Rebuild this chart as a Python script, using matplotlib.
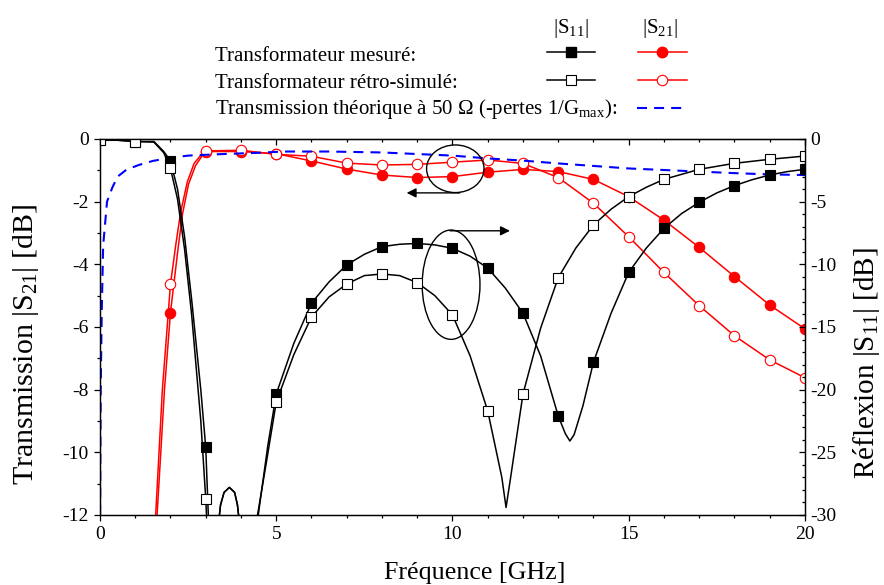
import numpy as np
import matplotlib
matplotlib.use('Agg')
import matplotlib.pyplot as plt
from matplotlib.patches import Ellipse
from matplotlib.ticker import MultipleLocator

plt.rcParams['font.family'] = ['Liberation Serif', 'DejaVu Serif']
plt.rcParams['mathtext.fontset'] = 'custom'
plt.rcParams['mathtext.rm'] = 'Liberation Serif'
plt.rcParams['mathtext.it'] = 'Liberation Serif:italic'
plt.rcParams['axes.unicode_minus'] = False

nan = np.nan

# markers, one per GHz
f_mk = np.arange(0, 21)
s11_mes_mk = [-0.1, -0.2, -1.76, -24.6, nan, -20.35, -13.1, -10.05, -8.59, -8.33, -8.72,
              -10.3, -13.9, -22.1, -17.8, -10.64, -7.13, -5.05, -3.72, -2.87, -2.42]
s11_sim_mk = [-0.1, -0.2, -2.34, -28.7, nan, -21.0, -14.2, -11.57, -10.77, -11.46, -14.04,
              -21.7, -20.35, -11.07, -6.86, -4.6, -3.22, -2.42, -1.94, -1.62, -1.36]
s21_mes_mk = [nan, nan, -5.54, -0.40, -0.40, -0.47, -0.70, -0.96, -1.15, -1.23, -1.20,
              -1.06, -0.97, -1.04, -1.29, -1.84, -2.59, -3.46, -4.39, -5.30, -6.06]
s21_sim_mk = [nan, nan, -4.63, -0.38, -0.36, -0.49, -0.55, -0.77, -0.83, -0.81, -0.74,
              -0.67, -0.78, -1.23, -2.05, -3.12, -4.26, -5.32, -6.28, -7.05, -7.62]

# traced curves
f_s11_mes = [0, 0.5, 1, 1.53, 1.81, 2, 2.2, 2.4, 2.6, 2.86, 3, 3.08,
             3.35, 3.42, 3.52, 3.67, 3.82, 3.9, 3.97, 4.4, 4.49, 4.76, 5,
             5.5, 6, 6.5, 7, 7.5, 8, 8.5, 9, 9.5, 10, 10.5, 11, 11.5, 12, 12.5,
             13, 13.2, 13.33, 13.45, 13.7, 14, 14.5, 15, 15.5, 16, 16.5, 17, 17.5,
             18, 18.5, 19, 19.5, 20]
s11_mes = [-0.1, -0.1, -0.2, -0.2, -1.0, -1.76, -4.0, -7.8, -12.8, -20.0, -24.6, -30.5,
           -31, -29.2, -28.2, -27.8, -28.2, -29.2, -31, -35, -30.0, -24.5, -20.35,
           -16.3, -13.1, -11.4, -10.05, -9.2, -8.59, -8.4, -8.33, -8.45, -8.72, -9.35, -10.3, -11.9, -13.9, -17.3,
           -22.1, -23.5, -24.1, -23.6, -21.3, -17.8, -13.9, -10.64, -8.7, -7.13, -5.95, -5.05, -4.3,
           -3.72, -3.25, -2.87, -2.6, -2.42]

f_s11_sim = [0, 0.5, 1, 1.53, 1.81, 2, 2.2, 2.4, 2.6, 2.86, 3, 3.03,
             3.35, 3.42, 3.52, 3.67, 3.82, 3.9, 3.97, 4.4, 4.47, 4.75, 5,
             5.5, 6, 6.5, 7, 7.5, 8, 8.5, 9, 9.5, 10, 10.5, 11, 11.4, 11.52, 11.65, 12, 12.5,
             13, 13.5, 14, 14.5, 15, 15.5, 16, 17, 18, 19, 20]
s11_sim = [-0.1, -0.1, -0.2, -0.25, -1.1, -2.34, -4.8, -8.8, -14.0, -22.5, -28.7, -30.5,
           -31, -29.2, -28.2, -27.8, -28.2, -29.2, -31, -35, -30.0, -25.3, -21.0,
           -17.2, -14.2, -12.6, -11.57, -10.9, -10.77, -10.9, -11.46, -12.5, -14.04, -17.3, -21.7, -27.0, -29.4, -27.0, -20.35, -15.1,
           -11.07, -8.7, -6.86, -5.6, -4.6, -3.85, -3.22, -2.42, -1.94, -1.62, -1.36]

f_s21_mes = [1.55, 1.62, 1.83, 2, 2.21, 2.34, 2.51, 2.71, 2.89, 3, 4, 5, 6, 7, 8, 9, 10,
             11, 12, 13, 14, 15, 16, 17, 18, 19, 20]
s21_mes = [-13.5, -12.0, -8.0, -5.54, -3.54, -2.4, -1.45, -0.85, -0.55, -0.40, -0.40, -0.47, -0.70, -0.96,
           -1.15, -1.23, -1.20, -1.06, -0.97, -1.04, -1.29, -1.84, -2.59, -3.46, -4.39, -5.30, -6.06]

f_s21_sim = [1.5, 1.58, 1.77, 2, 2.15, 2.29, 2.48, 2.67, 2.86, 3, 4, 5, 6, 7, 8, 9, 10,
             11, 12, 13, 14, 15, 16, 17, 18, 19, 20]
s21_sim = [-13.5, -12.0, -8.0, -4.63, -3.38, -2.32, -1.36, -0.78, -0.52, -0.38, -0.36, -0.49, -0.55, -0.77,
           -0.83, -0.81, -0.74, -0.67, -0.78, -1.23, -2.05, -3.12, -4.26, -5.32, -6.28, -7.05, -7.62]

f_theo = [0.003, 0.02, 0.05, 0.09, 0.2, 0.35, 0.5, 0.75, 1.1, 1.5, 1.9, 2.5, 3.5, 4.5, 5.2, 6.5,
          8, 9, 10, 11, 12, 13, 14, 15, 16, 17, 18, 19, 20]
s21_theo = [-12, -8, -5.5, -3.4, -2.0, -1.55, -1.2, -0.98, -0.83, -0.7, -0.62, -0.53, -0.48, -0.44, -0.40, -0.40,
            -0.43, -0.48, -0.53, -0.62, -0.69, -0.78, -0.86, -0.94, -0.99, -1.04, -1.09, -1.13, -1.15]

red = '#ff0000'
blue = '#0000ff'
lw = 1.1

fig = plt.figure(figsize=(8.84, 5.85), dpi=100)
ax = fig.add_axes([0.1131, 0.1197, 0.7975, 0.6427])
ax2 = ax.twinx()

# S21 on the left axis
ax.plot(f_s21_mes, s21_mes, color=red, lw=lw)
ax.plot(f_s21_sim, s21_sim, color=red, lw=lw)
ax.plot(f_mk, s21_mes_mk, 'o', color=red, ms=7.5, mec=red, mew=0.8)
ax.plot(f_mk, s21_sim_mk, 'o', color=red, ms=7.5, mfc='white', mec=red, mew=0.8)
ax.plot(f_theo, s21_theo, color=blue, lw=1.5, ls=(0, (4.8, 3.4)))

# S11 on the right axis
ax2.plot(f_s11_mes, s11_mes, color='k', lw=lw)
ax2.plot(f_s11_sim, s11_sim, color='k', lw=lw)
ax2.plot(f_mk, s11_mes_mk, 's', color='k', ms=6.5, mew=0.8)
ax2.plot(f_mk, s11_sim_mk, 's', color='k', ms=6.5, mfc='white', mec='k', mew=0.8)

ax.set_xlim(0, 20)
ax.set_ylim(-12, 0)
ax2.set_ylim(-30, 0)

ax.xaxis.set_major_locator(MultipleLocator(5))
ax.xaxis.set_minor_locator(MultipleLocator(1))
ax.yaxis.set_major_locator(MultipleLocator(2))
ax.yaxis.set_minor_locator(MultipleLocator(1))
ax2.yaxis.set_major_locator(MultipleLocator(5))
ax2.yaxis.set_minor_locator(MultipleLocator(1))

ax.tick_params(which='both', direction='out', labelsize=14, width=0.9)
ax.tick_params(which='major', length=4.5)
ax.tick_params(which='minor', length=2.5)
ax2.tick_params(which='both', direction='in', labelsize=14, width=0.9)
ax2.tick_params(which='major', length=4.5)
ax2.tick_params(which='minor', length=2.5)

top = ax.secondary_xaxis('top')
top.xaxis.set_major_locator(MultipleLocator(5))
top.xaxis.set_minor_locator(MultipleLocator(1))
top.tick_params(which='both', direction='in', labeltop=False, width=0.9)
top.tick_params(which='major', length=4.5)
top.tick_params(which='minor', length=2.5)

for a in (ax, ax2):
    for sp in a.spines.values():
        sp.set_linewidth(0.9)

# axis titles placed in pixel positions
W, H = 884, 585
fig.text(475 / W, 1 - 573 / H, 'Fréquence [GHz]', fontsize=18.7, ha='center', va='center')
fig.text(26 / W, 1 - 345 / H, 'Transmission |S$_{21}$| [dB]', fontsize=21.5,
         rotation=90, ha='center', va='center')
fig.text(866 / W, 1 - 363 / H, 'Réflexion |S$_{11}$| [dB]', fontsize=21,
         rotation=90, ha='center', va='center')

# annotations
ax2.add_patch(Ellipse((10.08, -0.95), 1.63, 1.52, transform=ax.transData,
                      fill=False, ec='k', lw=1.0))
ax2.add_patch(Ellipse((9.96, -4.65), 1.64, 3.49, transform=ax.transData,
                      fill=False, ec='k', lw=1.0))
ax2.annotate('', xy=(8.70, -1.72), xytext=(10.21, -1.72), xycoords=ax.transData,
             textcoords=ax.transData,
             arrowprops=dict(arrowstyle='-|>', color='k', lw=1.0, mutation_scale=14,
                             shrinkA=0, shrinkB=0))
ax2.annotate('', xy=(11.63, -2.93), xytext=(9.93, -2.93), xycoords=ax.transData,
             textcoords=ax.transData,
             arrowprops=dict(arrowstyle='-|>', color='k', lw=1.0, mutation_scale=14,
                             shrinkA=0, shrinkB=0))

# legend drawn by hand in pixel coordinates
lax = fig.add_axes([0, 0, 1, 1])
lax.set_xlim(0, W)
lax.set_ylim(H, 0)
lax.axis('off')

lax.text(570.5, 33, '|S$_{11}$|', fontsize=15, ha='center', va='baseline')
lax.text(659.5, 33, '|S$_{21}$|', fontsize=15, ha='center', va='baseline')
lax.text(215, 61, 'Transformateur mesuré:', fontsize=15, ha='left', va='baseline')
lax.text(215, 88, 'Transformateur rétro-simulé:', fontsize=15, ha='left', va='baseline')
lax.text(215, 114, 'Transmission théorique à 50 Ω (-pertes 1/G$_{\\mathrm{max}}$):',
         fontsize=15, ha='left', va='baseline')

lax.plot([547, 571, 595], [52.3] * 3, color='k', lw=lw, marker='s', ms=6.5, markevery=[1])
lax.plot([547, 571, 595], [79.7] * 3, color='k', lw=lw, marker='s', ms=6.5, mfc='white',
         mew=0.8, markevery=[1])
lax.plot([638, 662, 687], [52.3] * 3, color=red, lw=lw, marker='o', ms=7.5, markevery=[1])
lax.plot([638, 662, 687], [79.7] * 3, color=red, lw=lw, marker='o', ms=7.5, mfc='white',
         mew=0.8, markevery=[1])
lax.plot([637, 683], [108.3, 108.3], color=blue, lw=1.5, ls=(0, (4.8, 3.4)))

fig.savefig('out.png', dpi=100)
